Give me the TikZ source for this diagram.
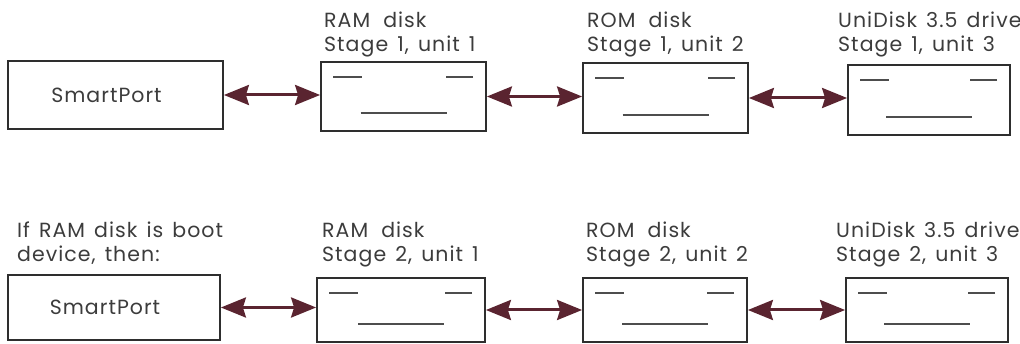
\documentclass[tikz,border=0pt]{standalone}
\usepackage{fontspec}
\setmainfont{Poppins}[LetterSpace=5,WordSpace=1.4]
\usetikzlibrary{arrows.meta}
\definecolor{ink}{HTML}{2E2E2E}
\definecolor{txt}{HTML}{3C3C3C}
\definecolor{maroon}{HTML}{5A2430}
\tikzset{
  unitbox/.style={draw=ink, line width=1.8pt, inner sep=0pt},
  dashline/.style={draw=ink!85, line width=2.6pt},
  disk/.style={unitbox, path picture={
      \draw[dashline] ([shift={(12,15)}]path picture bounding box.north west) -- ++(29,0);
      \draw[dashline] ([shift={(-13,15)}]path picture bounding box.north east) -- ++(-27,0);
      \draw[dashline] ([shift={(-43,-18)}]path picture bounding box.south) -- ++(86,0);
  }},
  lblfont/.style={text=txt, font=\fontsize{20.5}{24}\selectfont},
  lbl/.style={lblfont, anchor=north west, inner sep=0pt, align=left},
  port/.style={unitbox, lblfont, execute at begin node={\hspace*{-18pt}}},
  link/.style={maroon, line width=3pt,
    {Stealth[length=25pt,width=20pt,inset=3pt]}-{Stealth[length=25pt,width=20pt,inset=3pt]}}
}
\newcommand{\gapword}{\hspace{4pt}\ }
\begin{document}
\begin{tikzpicture}[x=1pt,y=-1pt]
  \useasboundingbox (0,0) rectangle (1020,344);

  % first stage
  \node[port, minimum width=215pt, minimum height=68pt] (sp1) at (115.5,95) {SmartPort};
  \node[disk, minimum width=165pt, minimum height=69pt] (ram1) at (403.5,96.5) {};
  \node[disk, minimum width=165pt, minimum height=70pt] (rom1) at (665.5,98) {};
  \node[disk, minimum width=162pt, minimum height=70pt] (uni1) at (929,100) {};

  \node[lbl] (lram1) at (324,12) {RAM\gapword disk\\Stage 1, unit 1};
  \node[lbl] (lrom1) at (587,12) {ROM\gapword disk\\Stage 1, unit 2};
  \node[lbl] (luni1) at (838,12) {UniDisk 3.5 drive\\Stage 1, unit 3};

  \draw[link] (sp1.east) -- (sp1.east -| ram1.west);
  \draw[link] (ram1.east) -- (ram1.east -| rom1.west);
  \draw[link] (rom1.east) -- (rom1.east -| uni1.west);

  % second stage
  \node[port, minimum width=212pt, minimum height=65pt] (sp2) at (114,307.5) {SmartPort};
  \node[disk, minimum width=168pt, minimum height=64pt] (ram2) at (401,310) {};
  \node[disk, minimum width=164pt, minimum height=64pt] (rom2) at (665,310) {};
  \node[disk, minimum width=162pt, minimum height=64pt] (uni2) at (927,310) {};

  \node[lbl] (lboot) at (17,222) {If RAM disk is boot\\device, then:};
  \node[lbl] (lram2) at (322,222) {RAM\gapword disk\\Stage 2, unit 1};
  \node[lbl] (lrom2) at (586,222) {ROM\gapword disk\\Stage 2, unit 2};
  \node[lbl] (luni2) at (836,222) {UniDisk 3.5 drive\\Stage 2, unit 3};

  \draw[link] (sp2.east) -- (sp2.east -| ram2.west);
  \draw[link] (ram2.east) -- (ram2.east -| rom2.west);
  \draw[link] (rom2.east) -- (rom2.east -| uni2.west);
\end{tikzpicture}
\end{document}
